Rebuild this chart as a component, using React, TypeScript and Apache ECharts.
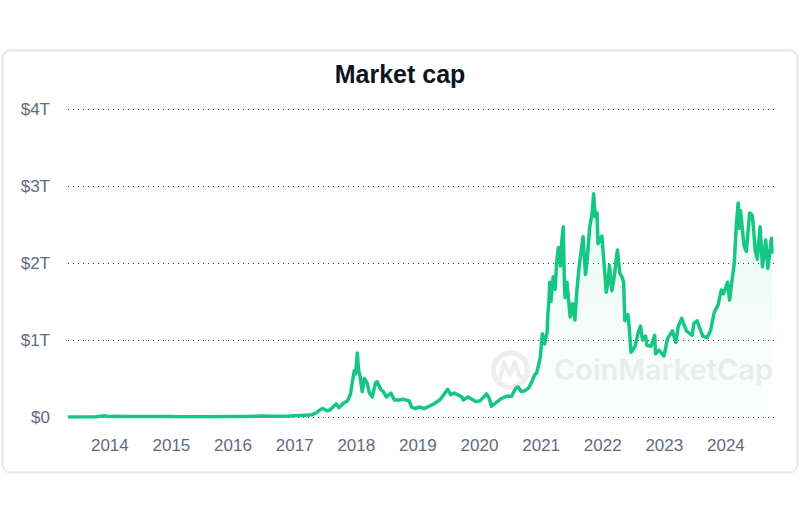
import React, { useEffect, useRef } from "react";
import * as echarts from "echarts";

const dates: string[] = [
  "2013-04-28","2013-07-01","2013-10-01","2013-11-30","2013-12-20","2014-02-01","2014-04-01","2014-06-01",
  "2014-09-01","2014-12-01","2015-03-01","2015-06-01","2015-09-01","2015-12-01","2016-03-01","2016-06-15",
  "2016-09-01","2016-12-01","2017-01-05","2017-03-01","2017-04-15","2017-05-10","2017-05-25","2017-06-15",
  "2017-07-15","2017-08-01","2017-08-20","2017-09-05","2017-09-20","2017-10-15","2017-11-10","2017-11-28",
  "2017-12-12","2017-12-20","2017-12-28","2018-01-07","2018-01-15","2018-01-22","2018-02-05","2018-02-18",
  "2018-03-05","2018-03-20","2018-04-06","2018-04-25","2018-05-05","2018-05-25","2018-06-10","2018-06-28",
  "2018-07-25","2018-08-15","2018-09-10","2018-10-05","2018-11-10","2018-11-25","2018-12-14","2019-01-10",
  "2019-02-06","2019-03-01","2019-04-05","2019-05-10","2019-06-01","2019-06-26","2019-07-15","2019-08-06",
  "2019-09-20","2019-09-26","2019-10-26","2019-12-10","2020-01-05","2020-02-12","2020-02-27","2020-03-12",
  "2020-04-10","2020-05-10","2020-06-10","2020-07-10","2020-08-02","2020-08-17","2020-09-05","2020-09-25",
  "2020-10-20","2020-11-05","2020-11-24","2020-12-05","2020-12-17","2020-12-27","2021-01-08","2021-01-22",
  "2021-02-05","2021-02-10","2021-02-16","2021-02-21","2021-02-28","2021-03-13","2021-03-25","2021-04-02",
  "2021-04-13","2021-04-25","2021-05-04","2021-05-12","2021-05-19","2021-05-23","2021-06-03","2021-06-22",
  "2021-07-06","2021-07-20","2021-08-01","2021-08-14","2021-08-23","2021-09-06","2021-09-21","2021-10-01",
  "2021-10-15","2021-10-22","2021-10-28","2021-11-08","2021-11-18","2021-11-28","2021-12-04","2021-12-15",
  "2021-12-27","2022-01-05","2022-01-22","2022-02-01","2022-02-10","2022-02-24","2022-03-10","2022-03-29",
  "2022-04-12","2022-04-25","2022-05-05","2022-05-12","2022-05-30","2022-06-05","2022-06-18","2022-07-01",
  "2022-07-12","2022-07-28","2022-08-13","2022-08-25","2022-09-12","2022-09-20","2022-10-15","2022-11-05",
  "2022-11-10","2022-12-01","2022-12-30","2023-01-20","2023-02-05","2023-02-18","2023-03-10","2023-03-25",
  "2023-04-14","2023-05-12","2023-06-15","2023-06-25","2023-07-14","2023-08-17","2023-09-11","2023-10-02",
  "2023-10-24","2023-11-15","2023-12-05","2023-12-18","2024-01-11","2024-01-23","2024-02-08","2024-02-20",
  "2024-02-28","2024-03-05","2024-03-14","2024-03-20","2024-03-28","2024-04-18","2024-05-01","2024-05-21",
  "2024-06-06","2024-06-24","2024-07-05","2024-07-22","2024-08-05","2024-08-24","2024-09-06","2024-09-27",
  "2024-09-30"
];

// market cap in trillions of USD
const marketCap: number[] = [
  0.0015,0.001,0.0015,0.015,0.008,0.011,0.006,0.008,
  0.006,0.005,0.004,0.0035,0.0035,0.0055,0.007,0.012,
  0.01,0.012,0.017,0.022,0.03,0.055,0.085,0.11,
  0.08,0.095,0.14,0.17,0.12,0.175,0.21,0.30,
  0.50,0.60,0.56,0.83,0.60,0.55,0.33,0.50,
  0.45,0.31,0.26,0.44,0.46,0.36,0.33,0.26,
  0.31,0.22,0.22,0.23,0.21,0.13,0.11,0.13,
  0.11,0.13,0.17,0.22,0.28,0.36,0.29,0.31,
  0.26,0.22,0.26,0.20,0.21,0.30,0.25,0.14,
  0.19,0.24,0.27,0.27,0.37,0.39,0.33,0.34,
  0.38,0.45,0.55,0.57,0.68,0.78,1.08,0.95,
  1.10,1.35,1.5,1.75,1.50,1.82,1.66,2.0,
  2.2,1.96,2.3,2.47,1.7,1.55,1.75,1.30,
  1.47,1.26,1.65,1.95,2.1,2.34,1.85,2.05,
  2.45,2.55,2.6,2.90,2.6,2.65,2.25,2.3,
  2.35,2.1,1.62,1.75,1.97,1.64,1.82,2.17,
  1.87,1.82,1.75,1.25,1.33,1.22,0.84,0.88,
  0.92,1.08,1.18,1.0,1.05,0.93,0.92,1.06,
  0.82,0.87,0.79,1.02,1.07,1.12,0.97,1.18,
  1.28,1.12,1.06,1.21,1.25,1.05,1.03,1.12,
  1.36,1.45,1.65,1.60,1.75,1.52,1.80,2.0,
  2.35,2.55,2.78,2.45,2.68,2.22,2.15,2.65,
  2.62,2.15,2.05,2.47,1.95,2.30,1.93,2.32,
  2.12
];

const yTicks: number[] = [0, 1, 2, 3, 4];
const titleText = "Market cap";
const watermarkText = "CoinMarketCap";

export default function App() {
  const ref = useRef<HTMLDivElement>(null);
  useEffect(() => {
    if (!ref.current) return;
    const chart = echarts.init(ref.current, undefined, { renderer: "svg" });
    const font = "'Liberation Sans', Arial, Helvetica, sans-serif";
    const green = "#16c784";
    const wm = "#eeeeee";
    chart.setOption({
      animation: false,
      backgroundColor: "#ffffff",
      title: {
        text: titleText,
        left: "center",
        top: 56,
        textStyle: { fontFamily: font, fontWeight: "bold", fontSize: 25, color: "#0d1421" },
      },
      grid: { left: 68, right: 22, top: 109, bottom: 108, containLabel: false },
      xAxis: {
        type: "time",
        min: "2013-04-28",
        max: "2024-11-05",
        splitNumber: 12,
        minInterval: 300 * 864e5,
        maxInterval: 400 * 864e5,
        axisLine: { show: false },
        axisTick: { show: false },
        splitLine: { show: false },
        axisLabel: {
          showMinLabel: false,
          showMaxLabel: false,
          margin: 20,
          color: "#5f6b80",
          fontSize: 17,
          fontFamily: font,
          formatter: (val: number) => {
            const d = new Date(val);
            return d.getMonth() === 0 && d.getDate() === 1 ? String(d.getFullYear()) : "";
          },
        },
      },
      yAxis: {
        type: "value",
        min: yTicks[0],
        max: yTicks[yTicks.length - 1],
        interval: 1,
        axisLine: { show: false },
        axisTick: { show: false },
        axisLabel: {
          margin: 18,
          color: "#5f6b80",
          fontSize: 17,
          fontFamily: font,
          formatter: (v: number) => (v === 0 ? "$0" : `$${v}T`),
        },
        splitLine: { lineStyle: { type: [1, 4], color: "#3a3f48", width: 1 } },
      },
      graphic: [
        {
          type: "rect",
          z: -10,
          shape: { x: 2.5, y: 50.5, width: 795, height: 422, r: 8 },
          style: { fill: "#ffffff", stroke: "#e4e6ea", lineWidth: 2 },
          silent: true,
        },
        {
          type: "circle",
          z: 0,
          shape: { cx: 510.5, cy: 370, r: 17 },
          style: { fill: "none", stroke: wm, lineWidth: 5 },
          silent: true,
        },
        {
          type: "polyline",
          z: 0,
          shape: { points: [[500, 379], [504, 362], [510, 375], [515, 362], [519, 376], [525, 378]] },
          style: { fill: "none", stroke: wm, lineWidth: 4, lineJoin: "round", lineCap: "round" },
          silent: true,
        },
        {
          type: "text",
          z: 0,
          left: 554,
          top: 355,
          style: {
            text: watermarkText,
            fontFamily: "Inter, 'Noto Sans', sans-serif",
            fontWeight: 600,
            fontSize: 29,
            fill: wm,
          },
          silent: true,
        },
      ],
      series: [
        {
          type: "line",
          z: 5,
          showSymbol: false,
          data: dates.map((d, i) => [d, marketCap[i]]),
          lineStyle: { color: green, width: 3.5, join: "round" },
          itemStyle: { color: green },
          areaStyle: {
            color: new echarts.graphic.LinearGradient(0, 0, 0, 1, [
              { offset: 0, color: "rgba(22,199,132,0.14)" },
              { offset: 1, color: "rgba(22,199,132,0.01)" },
            ]),
          },
        },
      ],
    });
    return () => chart.dispose();
  }, []);
  return <div ref={ref} style={{ position: "absolute", left: 0, top: 0, width: 800, height: 525 }} />;
}
